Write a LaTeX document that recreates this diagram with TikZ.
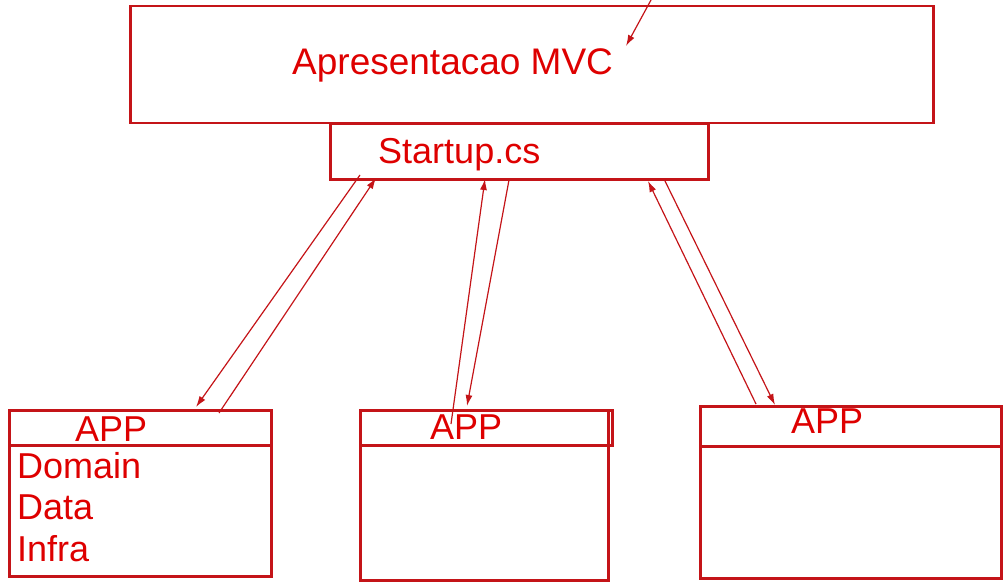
\documentclass[tikz,border=0pt]{standalone}
\usepackage{fontspec}
\setmainfont{Liberation Sans}
\usetikzlibrary{arrows.meta}
\definecolor{boxred}{RGB}{196,20,24}
\definecolor{txtred}{RGB}{222,0,0}
\begin{document}
\begin{tikzpicture}[x=1pt,y=-1pt,
  box/.style={draw=boxred,line width=2.5pt,anchor=north west,inner sep=0pt},
  lbl/.style={text=txtred,anchor=base west,inner sep=0pt,font=\fontsize{36}{40}\selectfont},
  link/.style={draw=boxred,line width=1.2pt,-{Latex[length=11pt,width=7pt]}}]
\useasboundingbox (0,0) rectangle (1006,583);
% top layer
\node [box,minimum width=803pt,minimum height=117pt] (mvc) at (129,5) {};
\node [box,minimum width=378pt,minimum height=55pt] (startup) at (329,123) {};
\node [lbl,font=\fontsize{37}{40}\selectfont] (mvctxt) at (292,75) {Apresentacao MVC};
\node [lbl] (startuptxt) at (378,163) {Startup.cs};
% app boxes
\node [box,minimum width=262pt,minimum height=166pt] (app1) at (8,409) {};
\node [box,minimum width=262pt,minimum height=35pt] (head1) at (8,409) {};
\node [box,minimum width=248pt,minimum height=170pt] (app2) at (359,409) {};
\node [box,minimum width=252pt,minimum height=35pt] (head2) at (359,409) {};
\node [box,minimum width=301pt,minimum height=172pt] (app3) at (699,405) {};
\node [box,minimum width=301pt,minimum height=40pt] (head3) at (699,405) {};
\node [lbl] (apptxt1) at (75,441) {APP};
\node [lbl] (domain) at (17,478) {Domain};
\node [lbl] (data) at (17,519) {Data};
\node [lbl] (infra) at (17,561) {Infra};
\node [lbl] (apptxt2) at (430,439) {APP};
\node [lbl] (apptxt3) at (791,433) {APP};
% connector ends
\coordinate (s1) at (360,175);
\coordinate (s2) at (376,178);
\coordinate (s3) at (485,179);
\coordinate (s4) at (509,180);
\coordinate (s5) at (648,181);
\coordinate (s6) at (665,181);
\coordinate (a1) at (196,407);
\coordinate (a2) at (219,413);
\coordinate (a3) at (451,424);
\coordinate (a4) at (467,406);
\coordinate (a5) at (756,404);
\coordinate (a6) at (775,405);
\coordinate (in) at (651,0);
\coordinate (intip) at (626,46);
\draw [link] (s1) -- (a1);
\draw [link] (a2) -- (s2);
\draw [link] (a3) -- (s3);
\draw [link] (s4) -- (a4);
\draw [link] (a5) -- (s5);
\draw [link] (s6) -- (a6);
\draw [link] (in) -- (intip);
\end{tikzpicture}
\end{document}
